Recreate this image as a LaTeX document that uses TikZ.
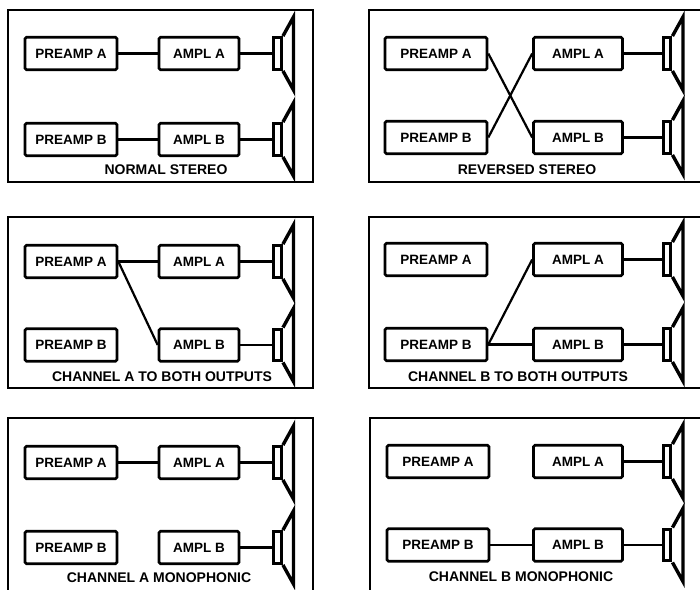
\documentclass[tikz,border=0pt]{standalone}
\usepackage{fontspec}
\setmainfont{Liberation Sans}
\usepackage{tikz}
\usetikzlibrary{calc}
\tikzstyle{unit} = [rectangle, draw, line width=2.6pt, rounded corners=1.5pt, minimum height=32.5pt, inner sep=0pt, text centered, font=\bfseries\fontsize{13.5}{15}\selectfont]
\tikzstyle{magnet} = [rectangle, draw, fill=white, line width=3.4pt, minimum width=7.5pt, minimum height=31.5pt, inner sep=0pt]
\tikzstyle{horn} = [draw, line width=3.4pt]
\tikzstyle{wire} = [line width=2.2pt]
\tikzstyle{panel} = [draw, line width=1.6pt]
\tikzstyle{caption} = [inner sep=0pt, font=\bfseries\fontsize{14}{16}\selectfont]

\begin{document}
\begin{tikzpicture}[x=1pt,y=-1pt]
    \useasboundingbox (0,0) rectangle (700,589);
    \clip (0,0) rectangle (700,589);
    % panel frames
    \draw[panel] (8,10) rectangle (313,182);
    \draw[panel] (369,10) rectangle (712,182);
    \draw[panel] (8,217) rectangle (313,388);
    \draw[panel] (369,217) rectangle (712,388);
    \draw[panel] (8,418) rectangle (313,600);
    \draw[panel] (370,418) rectangle (712,600);
    % preamps, amps and speakers of each panel
    \foreach \n/\px/\ax/\sx/\ya/\yb/\pw/\aw in {1/71/199/277.5/53.5/139.5/92/80, 2/436/578/667/53.5/137.5/102/89,
            3/71/199/277.5/261.5/345/92/80, 4/436/578/667/259.5/344.5/102/89,
            5/71/199/277.5/462.5/547.5/92/80, 6/438/578/667/461.5/545/102/89}{
        \node[unit, minimum width=\pw pt] (pa\n) at (\px,\ya) {PREAMP A};
        \node[unit, minimum width=\pw pt] (pb\n) at (\px,\yb) {PREAMP B};
        \node[unit, minimum width=\aw pt] (aa\n) at (\ax,\ya) {AMPL A};
        \node[unit, minimum width=\aw pt] (ab\n) at (\ax,\yb) {AMPL B};
        \node[magnet] (sa\n) at (\sx,\ya) {};
        \node[magnet] (sb\n) at (\sx,\yb) {};
        \draw[horn] (sa\n.north east) -- ++(10.5,-19) -- ($(sa\n.south east)+(10.5,19)$) -- (sa\n.south east);
        \draw[horn] (sb\n.north east) -- ++(10.5,-19) -- ($(sb\n.south east)+(10.5,19)$) -- (sb\n.south east);
        \draw[wire] (aa\n) -- (sa\n);
        \draw[wire] (ab\n) -- (sb\n);
    }
    % normal stereo
    \draw[wire] (pa1) -- (aa1);
    \draw[wire] (pb1) -- (ab1);
    \node[caption] (c1) at (166,170) {NORMAL STEREO};
    % reversed stereo
    \draw[wire] (pa2.east) -- (ab2.west);
    \draw[wire] (pb2.east) -- (aa2.west);
    \node[caption] (c2) at (527,170) {REVERSED STEREO};
    % channel a to both
    \draw[wire] (pa3) -- (aa3);
    \draw[wire] (pa3.east) -- (ab3.west);
    \node[caption] (c3) at (162,377) {CHANNEL A TO BOTH OUTPUTS};
    % channel b to both
    \draw[wire] (pb4.east) -- (aa4.west);
    \draw[wire] (pb4) -- (ab4);
    \node[caption] (c4) at (518,377) {CHANNEL B TO BOTH OUTPUTS};
    % monophonic
    \draw[wire] (pa5) -- (aa5);
    \node[caption] (c5) at (159,578) {CHANNEL A MONOPHONIC};
    \draw[wire] (pb6) -- (ab6);
    \node[caption] (c6) at (521,577) {CHANNEL B MONOPHONIC};
\end{tikzpicture}
\end{document}
